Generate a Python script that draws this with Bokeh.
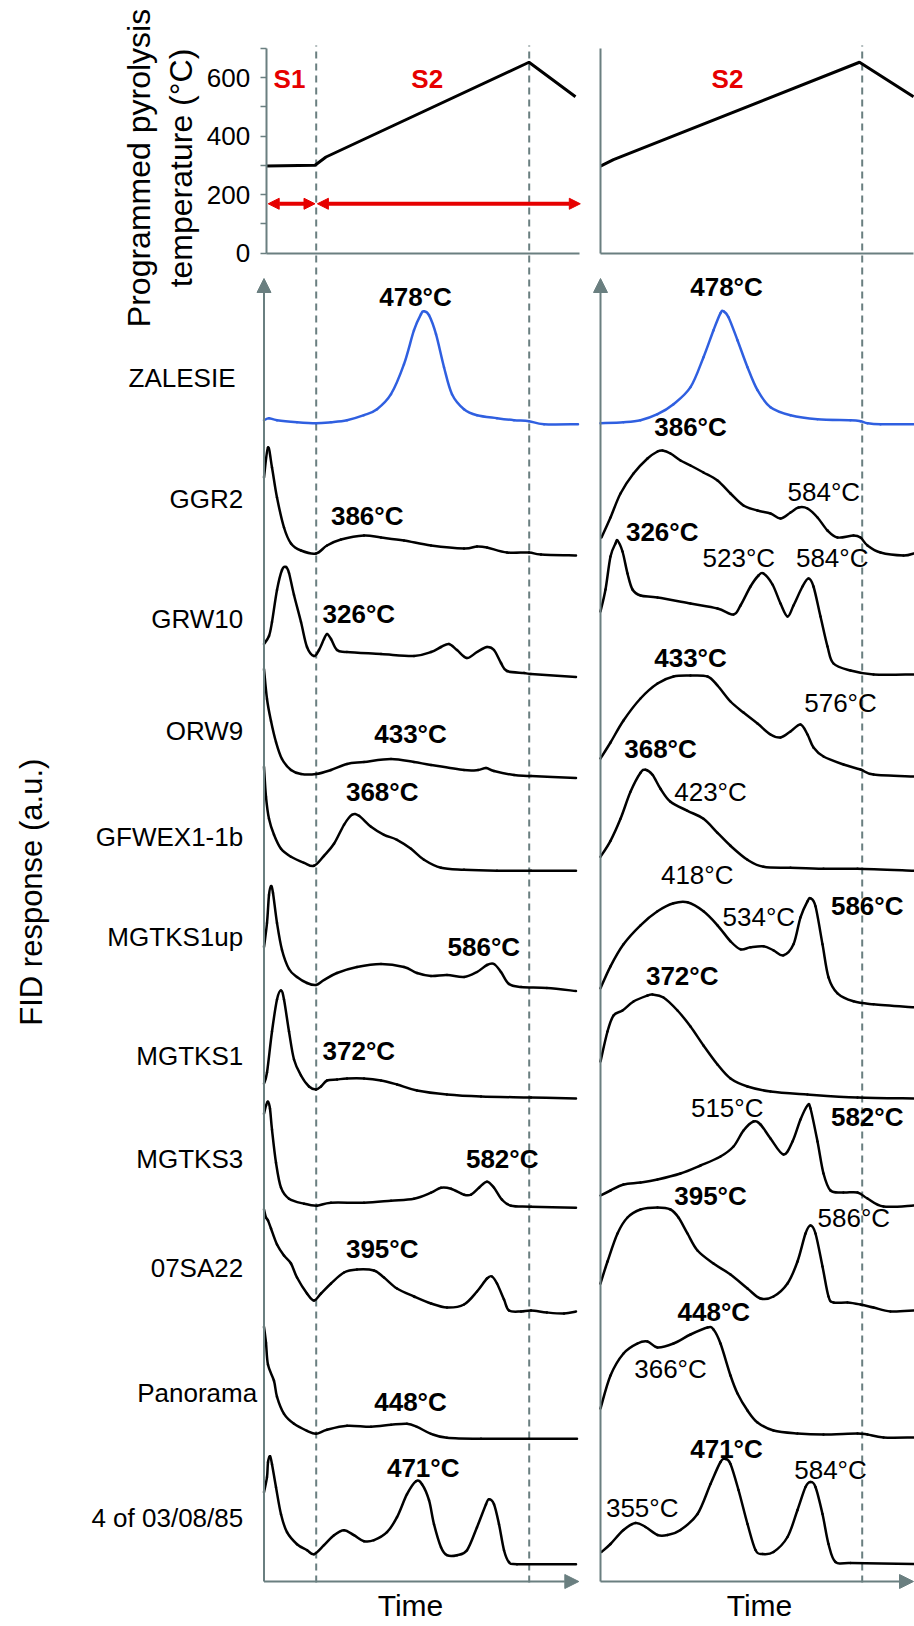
import math
from bokeh.plotting import figure
from bokeh.models import Range1d, LinearAxis, FixedTicker, Arrow, NormalHead
from bokeh.core.properties import value
from bokeh.embed import file_html
from bokeh.resources import INLINE

# ---------------- DATA ----------------
sample_names = ["ZALESIE", "GGR2", "GRW10", "ORW9", "GFWEX1-1b", "MGTKS1up",
                "MGTKS1", "MGTKS3", "07SA22", "Panorama", "4 of 03/08/85"]

# programmed temperature (°C) vs time (a.u.)
temp_t_left = [2.2, 51, 62, 265, 311.5]
temp_left = [298, 301, 329, 653, 535]
temp_t_right = [0, 13, 259, 313]
temp_right = [298, 320, 653, 535]
stage_bounds_left = [52.2, 265.2]
stage_bounds_right = [261.7]
stage_names_left = ["S1", "S2"]
stage_names_right = ["S2"]

# FID traces: time (a.u.) and response (a.u.), left = S1+S2 run, right = S2-only run
zalesie_l_t = [0, 5, 13, 33, 52, 67, 83, 100, 113, 127, 140, 150, 157, 160, 165, 172, 180, 188, 200, 213, 233, 250, 265, 280, 314]
zalesie_l_h = [4, 6, 4, 2, 1, 2, 4, 9, 15, 30, 60, 94, 110, 113, 109, 90, 57, 30, 15, 9, 6, 4, 3, 0, 0]
zalesie_r_t = [0, 23, 40, 57, 73, 90, 103, 113, 120, 123, 128, 137, 147, 157, 170, 190, 217, 250, 260, 267, 280, 313]
zalesie_r_h = [1, 2, 4, 10, 20, 37, 67, 94, 111, 113, 107, 84, 57, 34, 17, 9, 5, 4, 3, 1, 0, 0]

ggr2_l_t = [0, 4, 8, 13, 20, 27, 37, 52, 63, 77, 100, 117, 140, 167, 200, 213, 223, 243, 265, 277, 312]
ggr2_l_h = [78, 108, 88, 58, 28, 12, 5, 2, 10, 16, 20, 18, 15, 10, 7, 9, 8, 3, 3, 1, 0]
ggr2_r_t = [1, 10, 20, 33, 47, 57, 62, 70, 80, 90, 103, 117, 130, 143, 157, 170, 180, 190, 198, 207, 217, 227, 237, 253, 260, 267, 280, 303, 313]
ggr2_r_h = [18, 38, 62, 82, 97, 104, 105, 102, 95, 90, 83, 75, 62, 50, 45, 42, 37, 43, 48, 47, 38, 25, 18, 20, 18, 10, 3, 0, 2]

grw10_l_t = [0, 5, 8, 13, 18, 22, 25, 30, 37, 43, 50, 55, 60, 63, 67, 73, 83, 117, 150, 167, 177, 185, 193, 203, 213, 223, 230, 237, 243, 260, 267, 312]
grw10_l_h = [33, 41, 55, 87, 107, 110, 104, 82, 55, 30, 21, 27, 38, 43, 38, 27, 25, 23, 21, 25, 30, 33, 27, 19, 25, 30, 27, 14, 6, 4, 3, 0]
grw10_r_t = [0, 5, 10, 15, 17, 22, 27, 32, 40, 57, 90, 117, 133, 140, 150, 158, 163, 172, 180, 187, 193, 202, 208, 213, 220, 227, 233, 250, 273, 313]
grw10_r_h = [64, 86, 119, 132, 135, 124, 102, 86, 80, 78, 72, 67, 61, 70, 89, 100, 102, 91, 72, 59, 70, 89, 97, 89, 59, 29, 12, 5, 1, 1]

orw9_l_t = [0, 3, 7, 12, 18, 27, 37, 52, 67, 83, 100, 127, 150, 167, 200, 214, 222, 230, 250, 267, 312]
orw9_l_h = [109, 79, 57, 36, 19, 8, 4, 4, 8, 14, 16, 19, 16, 13, 8, 8, 10, 7, 3, 2, 0]
orw9_r_t = [0, 10, 23, 40, 57, 73, 90, 107, 117, 130, 143, 157, 170, 180, 190, 200, 207, 213, 223, 243, 260, 273, 313]
orw9_r_h = [18, 34, 56, 78, 93, 100, 101, 100, 91, 75, 64, 53, 42, 39, 45, 52, 42, 29, 20, 12, 7, 2, 0]

gfwex_l_t = [0, 2, 5, 10, 17, 27, 40, 50, 60, 70, 80, 88, 95, 107, 120, 133, 147, 160, 177, 200, 233, 267, 312]
gfwex_l_h = [104, 74, 52, 36, 22, 14, 8, 5, 15, 27, 46, 56, 55, 44, 36, 31, 22, 11, 3, 1, 0, 0, 0]
gfwex_r_t = [0, 10, 20, 30, 40, 45, 52, 60, 70, 87, 103, 117, 130, 147, 163, 190, 223, 257, 313]
gfwex_r_h = [14, 30, 52, 79, 98, 101, 96, 82, 69, 60, 52, 38, 25, 11, 4, 3, 2, 2, 0]

mgtks1up_l_t = [0, 3, 5, 7, 9, 13, 18, 25, 33, 43, 52, 60, 73, 93, 117, 140, 153, 167, 183, 200, 213, 223, 230, 237, 245, 257, 283, 312]
mgtks1up_l_h = [44, 68, 96, 105, 98, 68, 41, 22, 14, 8, 6, 11, 18, 24, 27, 24, 18, 15, 16, 14, 19, 26, 27, 19, 7, 4, 3, 0]
mgtks1up_r_t = [0, 10, 23, 40, 57, 73, 87, 103, 117, 130, 140, 150, 163, 173, 183, 193, 200, 207, 210, 215, 222, 228, 237, 253, 273, 313]
mgtks1up_r_h = [19, 41, 63, 82, 96, 104, 105, 96, 82, 66, 58, 60, 61, 57, 52, 63, 90, 106, 109, 101, 63, 30, 14, 6, 3, 0]

mgtks1_l_t = [0, 3, 8, 13, 17, 20, 25, 30, 37, 45, 52, 57, 63, 73, 83, 100, 117, 133, 153, 183, 217, 267, 312]
mgtks1_l_h = [15, 26, 67, 99, 108, 99, 67, 39, 23, 12, 9, 12, 18, 19, 20, 20, 18, 14, 8, 4, 2, 1, 0]
mgtks1_r_t = [0, 7, 13, 22, 33, 47, 52, 63, 77, 90, 103, 117, 130, 147, 170, 207, 257, 313]
mgtks1_r_h = [37, 67, 83, 88, 97, 103, 104, 101, 88, 72, 53, 34, 20, 12, 7, 4, 1, 0]

mgtks3_l_t = [0, 2, 4, 6, 8, 12, 17, 25, 40, 53, 67, 100, 127, 150, 167, 177, 187, 200, 207, 215, 223, 230, 238, 247, 267, 312]
mgtks3_l_h = [94, 102, 106, 99, 78, 45, 20, 9, 4, 2, 5, 5, 7, 9, 15, 20, 19, 13, 13, 20, 26, 20, 8, 2, 1, 0]
mgtks3_r_t = [0, 10, 23, 40, 57, 80, 100, 120, 133, 143, 153, 160, 170, 183, 192, 200, 207, 210, 217, 223, 230, 243, 257, 267, 283, 313]
mgtks3_r_h = [12, 17, 23, 25, 28, 34, 42, 51, 61, 77, 86, 83, 69, 53, 66, 88, 102, 99, 66, 34, 17, 15, 15, 9, 1, 2]

sa22_l_t = [0, 2, 4, 7, 13, 20, 27, 33, 43, 50, 57, 67, 80, 93, 110, 120, 133, 150, 167, 183, 200, 213, 223, 228, 233, 240, 245, 257, 267, 283, 300, 312]
sa22_l_h = [102, 94, 91, 83, 67, 56, 48, 34, 18, 11, 18, 28, 39, 42, 41, 34, 23, 15, 8, 4, 7, 20, 33, 35, 28, 12, 1, 0, 1, -1, -2, 0]
sa22_r_t = [0, 7, 17, 27, 40, 57, 70, 78, 87, 97, 113, 130, 147, 160, 173, 187, 197, 205, 210, 215, 222, 228, 233, 247, 260, 273, 290, 313]
sa22_r_h = [28, 50, 78, 94, 102, 104, 102, 94, 78, 61, 48, 37, 23, 13, 15, 28, 50, 78, 86, 78, 45, 15, 9, 9, 7, 4, 0, 1]

pano_l_t = [0, 2, 4, 10, 13, 20, 30, 43, 52, 63, 83, 107, 127, 143, 153, 167, 183, 217, 313]
pano_l_h = [112, 96, 74, 58, 42, 25, 15, 8, 5, 9, 13, 12, 14, 15, 12, 5, 1, 0, 0]
pano_r_t = [0, 10, 23, 37, 47, 57, 73, 90, 107, 113, 120, 130, 137, 147, 157, 173, 197, 223, 257, 267, 283, 313]
pano_r_h = [30, 63, 85, 95, 97, 91, 95, 104, 111, 109, 95, 63, 45, 28, 16, 8, 5, 4, 5, 4, 1, 1]

s4_l_t = [0, 3, 4, 6, 8, 12, 17, 23, 33, 43, 50, 60, 70, 80, 90, 100, 110, 123, 133, 143, 152, 158, 165, 170, 177, 183, 193, 203, 213, 222, 225, 230, 235, 240, 245, 253, 312]
s4_l_h = [72, 87, 102, 108, 100, 77, 50, 32, 20, 14, 10, 19, 29, 34, 29, 23, 24, 32, 47, 70, 83, 80, 64, 40, 17, 9, 9, 14, 37, 60, 65, 60, 40, 14, 2, 0, 0]
s4_r_t = [1, 10, 23, 35, 45, 57, 67, 80, 97, 110, 120, 125, 130, 138, 147, 155, 162, 173, 187, 197, 205, 210, 215, 222, 228, 235, 250, 313]
s4_r_h = [12, 20, 34, 41, 37, 29, 29, 34, 50, 80, 102, 105, 100, 74, 40, 14, 10, 12, 27, 54, 77, 82, 77, 50, 20, 2, 1, 0]

left_traces = [(zalesie_l_t, zalesie_l_h), (ggr2_l_t, ggr2_l_h), (grw10_l_t, grw10_l_h),
               (orw9_l_t, orw9_l_h), (gfwex_l_t, gfwex_l_h), (mgtks1up_l_t, mgtks1up_l_h),
               (mgtks1_l_t, mgtks1_l_h), (mgtks3_l_t, mgtks3_l_h), (sa22_l_t, sa22_l_h),
               (pano_l_t, pano_l_h), (s4_l_t, s4_l_h)]
right_traces = [(zalesie_r_t, zalesie_r_h), (ggr2_r_t, ggr2_r_h), (grw10_r_t, grw10_r_h),
                (orw9_r_t, orw9_r_h), (gfwex_r_t, gfwex_r_h), (mgtks1up_r_t, mgtks1up_r_h),
                (mgtks1_r_t, mgtks1_r_h), (mgtks3_r_t, mgtks3_r_h), (sa22_r_t, sa22_r_h),
                (pano_r_t, pano_r_h), (s4_r_t, s4_r_h)]

# peak temperature labels
left_peak_text = ["478°C", "386°C", "326°C", "433°C", "368°C", "586°C",
                  "372°C", "582°C", "395°C", "448°C", "471°C"]
right_peak_text = ["478°C", "386°C", "584°C", "326°C", "523°C", "584°C", "433°C", "576°C",
                   "368°C", "423°C", "418°C", "534°C", "586°C", "372°C", "515°C", "582°C",
                   "395°C", "586°C", "448°C", "366°C", "471°C", "355°C", "584°C"]
right_peak_bold = [1, 1, 0, 1, 0, 0, 1, 0, 1, 0, 0, 0, 1, 1, 0, 1, 1, 0, 1, 0, 1, 0, 0]

# ---------------- LAYOUT (positions / sizes / styles) ----------------
W, H = 914, 1624
CX0, CY0 = 0, 0                 # canvas origin in reference pixels
LX0, LK = 263.5, 1.0            # left panel: x of t=0, px per unit
RX0, RK = 600.0, 1.0            # right panel
TY0, TK = 252.7, 0.29243        # temperature panel: y of 0 °C, px per °C
FY0 = 1581.0                    # FID panel: y of time axis, 1 a.u. = 1 px
TEMP_AX_L = 2.2                 # left temperature axis sits 2 px right of the FID axis

left_offsets = [1157.3, 1026, 904.5, 803.5, 710.7, 590.5, 483, 373.8, 270, 142.7, 17.3]
right_offsets = [1157.3, 1026, 906, 805, 710.7, 574.2, 483, 374, 270, 143, 17.5]
name_pos = [(-28.5, 1203.1), (-20.8, 1082.3), (-20.8, 962.3), (-20.8, 850.3), (-20.8, 744.5),
            (-20.8, 644.8), (-20.8, 525.7), (-20.8, 422.5), (-20.8, 314.0), (-6.8, 188.8),
            (-20.8, 63.6)]
left_peak_pos = [(151.5, 1284.3), (103.2, 1066), (94.8, 967.3), (146.5, 847.2), (118.2, 789.8),
                 (219.8, 634.2), (94.8, 530.5), (238.2, 422.4), (118.2, 332.3), (146.5, 179.3),
                 (159.2, 113.7)]
right_peak_pos = [(126, 1294.3), (90, 1154.3), (223.3, 1089.3), (61.7, 1049.3), (138.3, 1024),
                  (231.7, 1024), (90, 923.6), (240, 878.3), (60, 832.4), (110, 789.8),
                  (96.7, 706.8), (158.3, 664.3), (266.7, 675.2), (81.7, 605.3), (126.7, 473.2),
                  (266.7, 465), (110, 385.8), (253.3, 364), (113.3, 270), (70, 212.2),
                  (126, 132.7), (41.7, 73.3), (230, 111.7)]

AXIS_C = "#6a7f80"
RED = "#e60000"
BLUE = "#2f5fe0"
FONT_NAME = "Liberation Sans"
FONT = value(FONT_NAME)


def xrange_for(x0, k):
    return Range1d((CX0 - x0) / k, (CX0 + W - x0) / k)


def smooth_segments(xs, ys):
    """Cubic Bezier pieces through the read points (Catmull-Rom style tangents)."""
    n = len(xs)
    out = {k: [] for k in ("x0", "y0", "x1", "y1", "cx0", "cy0", "cx1", "cy1")}
    for i in range(n - 1):
        a = max(i - 1, 0)
        d = min(i + 2, n - 1)
        c0x = xs[i] + (xs[i + 1] - xs[a]) / 6.0
        c0y = ys[i] + (ys[i + 1] - ys[a]) / 6.0
        c1x = xs[i + 1] - (xs[d] - xs[i]) / 6.0
        c1y = ys[i + 1] - (ys[d] - ys[i]) / 6.0
        lo, hi = xs[i], xs[i + 1]
        c0x = min(max(c0x, lo), hi)
        c1x = min(max(c1x, lo), hi)
        out["x0"].append(xs[i]); out["y0"].append(ys[i])
        out["x1"].append(xs[i + 1]); out["y1"].append(ys[i + 1])
        out["cx0"].append(c0x); out["cy0"].append(c0y)
        out["cx1"].append(c1x); out["cy1"].append(c1y)
    return out


p = figure(width=W, height=H, output_backend="svg", toolbar_location=None,
           x_axis_type=None, y_axis_type=None, min_border=0, title=None,
           x_range=xrange_for(LX0, LK),
           y_range=Range1d(FY0 - (CY0 + H), FY0 - CY0))
p.extra_x_ranges = {"tr": xrange_for(RX0, RK)}
p.extra_y_ranges = {"temp": Range1d((TY0 - (CY0 + H)) / TK, (TY0 - CY0) / TK)}
p.outline_line_color = None
p.background_fill_color = "white"
p.border_fill_color = "white"

# ---- temperature panel axes ----
temp_ax = LinearAxis(y_range_name="temp", fixed_location=TEMP_AX_L, bounds=(0, 700),
                     ticker=FixedTicker(ticks=[0, 200, 400, 600], minor_ticks=[100, 300, 500, 700]),
                     axis_line_color=AXIS_C, axis_line_width=2,
                     major_tick_line_color=AXIS_C, major_tick_line_width=1.5,
                     major_tick_in=0, major_tick_out=6,
                     minor_tick_line_color=AXIS_C, minor_tick_line_width=1.5,
                     minor_tick_in=0, minor_tick_out=6,
                     major_label_text_font=FONT_NAME, major_label_text_font_size="26px",
                     major_label_text_color="black", major_label_standoff=10)
p.add_layout(temp_ax, "left")
temp_ax_r = LinearAxis(x_range_name="tr", y_range_name="temp", fixed_location=0, bounds=(0, 700),
                       ticker=FixedTicker(ticks=[]), axis_line_color=AXIS_C, axis_line_width=2,
                       major_tick_line_color=None, minor_tick_line_color=None,
                       major_label_text_font_size="0px")
p.add_layout(temp_ax_r, "left")
for rname, b in (("default", (TEMP_AX_L, 315.5)), ("tr", (0, 313))):
    ax = LinearAxis(x_range_name=rname, y_range_name="temp", fixed_location=0, bounds=b,
                    ticker=FixedTicker(ticks=[]), axis_line_color=AXIS_C, axis_line_width=2,
                    major_tick_line_color=None, minor_tick_line_color=None,
                    major_label_text_font_size="0px")
    p.add_layout(ax, "below")

# ---- stage boundaries (dashed) ----
p.segment(x0=stage_bounds_left, x1=stage_bounds_left, y0=[FY0 - 1582] * 2, y1=[FY0 - 45] * 2,
          line_color=AXIS_C, line_width=2, line_dash="7 5")
p.segment(x0=stage_bounds_right, x1=stage_bounds_right, y0=[FY0 - 1582], y1=[FY0 - 45],
          line_color=AXIS_C, line_width=2, line_dash="7 5", x_range_name="tr")

# ---- temperature programmes ----
p.line(temp_t_left, temp_left, y_range_name="temp", line_color="black", line_width=3)
p.line(temp_t_right, temp_right, y_range_name="temp", line_color="black", line_width=3,
       x_range_name="tr")

# stage arrows and names
for xs, xe in ((4.2, stage_bounds_left[0] - 1.2), (stage_bounds_left[0] + 1.2, 316.3)):
    p.add_layout(Arrow(x_start=xs, x_end=xe, y_start=169, y_end=169, y_range_name="temp",
                       line_color=RED, line_width=4,
                       start=NormalHead(size=11, fill_color=RED, line_color=RED),
                       end=NormalHead(size=11, fill_color=RED, line_color=RED)))
p.text(x=[25.5, 163.2], y=[594, 594], text=stage_names_left, y_range_name="temp",
       text_font=FONT, text_font_size="26px", text_font_style="bold", text_color=RED,
       text_align="center", text_baseline="middle")
p.text(x=[127], y=[597], text=stage_names_right, y_range_name="temp", x_range_name="tr",
       text_font=FONT, text_font_size="26px", text_font_style="bold", text_color=RED,
       text_align="center", text_baseline="middle")

# ---- FID axes with arrows ----
for rname, tend in (("default", 314.8), ("tr", 313)):
    p.add_layout(Arrow(x_start=0, y_start=0, x_end=0, y_end=FY0 - 278, x_range_name=rname,
                       line_color=AXIS_C, line_width=2,
                       end=NormalHead(size=14, fill_color=AXIS_C, line_color=AXIS_C)))
    p.add_layout(Arrow(x_start=0, y_start=0, x_end=tend, y_end=0, x_range_name=rname,
                       line_color=AXIS_C, line_width=2,
                       end=NormalHead(size=14, fill_color=AXIS_C, line_color=AXIS_C)))

# ---- FID traces (smooth curves through the read points) ----
for rname, traces, offsets in (("default", left_traces, left_offsets),
                               ("tr", right_traces, right_offsets)):
    for i, ((t, h), off) in enumerate(zip(traces, offsets)):
        seg = smooth_segments(t, [v + off for v in h])
        p.bezier(x0=seg["x0"], y0=seg["y0"], x1=seg["x1"], y1=seg["y1"],
                 cx0=seg["cx0"], cy0=seg["cy0"], cx1=seg["cx1"], cy1=seg["cy1"],
                 line_color=BLUE if i == 0 else "black", line_width=2.5,
                 line_cap="round", x_range_name=rname)

# ---- texts ----
p.text(x=[q[0] for q in name_pos], y=[q[1] for q in name_pos], text=sample_names,
       text_font=FONT, text_font_size="26px", text_color="black",
       text_align="right", text_baseline="middle")
p.text(x=[q[0] for q in left_peak_pos], y=[q[1] for q in left_peak_pos], text=left_peak_text,
       text_font=FONT, text_font_size="26px", text_font_style="bold", text_color="black",
       text_align="center", text_baseline="middle")
for bold in (1, 0):
    idx = [i for i, b in enumerate(right_peak_bold) if b == bold]
    p.text(x=[right_peak_pos[i][0] for i in idx], y=[right_peak_pos[i][1] for i in idx],
           text=[right_peak_text[i] for i in idx], x_range_name="tr",
           text_font=FONT, text_font_size="26px", text_font_style="bold" if bold else "normal",
           text_color="black", text_align="center", text_baseline="middle")

p.text(x=[146.5], y=[FY0 - 1605], text=["Time"], text_font=FONT, text_font_size="30px",
       text_align="center", text_baseline="middle", text_color="black")
p.text(x=[159], y=[FY0 - 1605], text=["Time"], x_range_name="tr", text_font=FONT,
       text_font_size="30px", text_align="center", text_baseline="middle", text_color="black")
p.text(x=[-232.5], y=[689.3], text=["FID response (a.u.)"], angle=math.pi / 2,
       text_font=FONT, text_font_size="31px", text_align="center", text_baseline="middle",
       text_color="black")
p.text(x=[-104], y=[1413.5], text=["Programmed pyrolysis\ntemperature (°C)"], angle=math.pi / 2,
       text_font=FONT, text_font_size="32px", text_align="center", text_baseline="middle",
       text_line_height=1.17, text_color="black")

open("out.html", "w").write(file_html(p, INLINE))
